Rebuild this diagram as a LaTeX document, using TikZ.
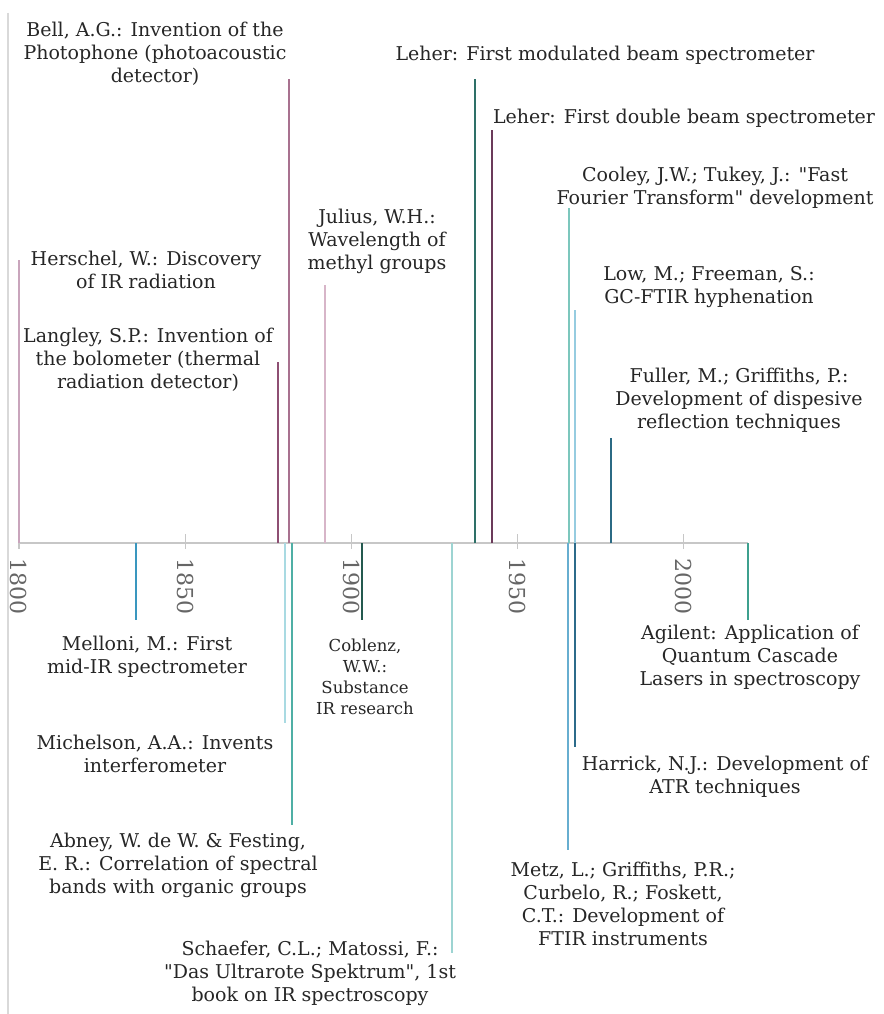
\documentclass[tikz,border=0pt]{standalone}
\usepackage{fontspec}
\setmainfont{DejaVu Serif}[Ligatures=TeXOff]
\definecolor{cHer}{HTML}{C9A5BC}
\definecolor{cLan}{HTML}{8E4F73}
\definecolor{cBel}{HTML}{A8718F}
\definecolor{cJul}{HTML}{D7B5C8}
\definecolor{cLmo}{HTML}{2E7068}
\definecolor{cLdb}{HTML}{6B3A5A}
\definecolor{cCoo}{HTML}{7CC7BD}
\definecolor{cLow}{HTML}{96CCE0}
\definecolor{cFul}{HTML}{2B6A84}
\definecolor{cMel}{HTML}{3A97BF}
\definecolor{cMic}{HTML}{A9DAE2}
\definecolor{cAbn}{HTML}{4FAFA5}
\definecolor{cCob}{HTML}{24594F}
\definecolor{cSch}{HTML}{9DD4D2}
\definecolor{cMet}{HTML}{67AED0}
\definecolor{cHar}{HTML}{2C6B8A}
\definecolor{cAgi}{HTML}{3DA08E}
\begin{document}
\begin{tikzpicture}[x=1pt,y=-1pt,
  event/.style = {line width=2.2pt},
  axis/.style = {draw=black!22,line width=1.2pt},
  lbl/.style = {align=center,inner sep=0pt,text=black!85,font=\fontsize{19}{23}\selectfont},
  small/.style = {align=center,inner sep=0pt,text=black!85,font=\fontsize{16.5}{21}\selectfont},
  yr/.style = {rotate=-90,anchor=west,inner sep=0pt,text=black!60,font=\fontsize{22}{24}\selectfont}]
\useasboundingbox (0,0) rectangle (883,1014);
\draw[draw=black!15,line width=1.5pt] (8,13) -- (8,1014);
\coordinate (ax0) at (19,543);
\coordinate (ax1) at (748,543);
\draw[axis] (ax0) -- (ax1);
\foreach \yr [count=\k from 0] in {1800,1850,1900,1950,2000} {
    \draw[axis] (19+166.1*\k,534) -- (19+166.1*\k,549);
    \node[yr] (y\yr) at (19+166.1*\k,558) {\yr};
}
\coordinate (her0) at (19,543);  \coordinate (her1) at (19,260);
\coordinate (lan0) at (278,543); \coordinate (lan1) at (278,362);
\coordinate (bel0) at (289,543); \coordinate (bel1) at (289,79);
\coordinate (jul0) at (325,543); \coordinate (jul1) at (325,285);
\coordinate (lmo0) at (475,543); \coordinate (lmo1) at (475,79);
\coordinate (ldb0) at (492,543); \coordinate (ldb1) at (492,130);
\coordinate (coo0) at (569,543); \coordinate (coo1) at (569,208);
\coordinate (low0) at (575,543); \coordinate (low1) at (575,310);
\coordinate (ful0) at (611,543); \coordinate (ful1) at (611,438);
\coordinate (mel0) at (136,543); \coordinate (mel1) at (136,620);
\coordinate (mic0) at (285,543); \coordinate (mic1) at (285,723);
\coordinate (abn0) at (292,543); \coordinate (abn1) at (292,825);
\coordinate (cob0) at (362,543); \coordinate (cob1) at (362,620);
\coordinate (sch0) at (452,543); \coordinate (sch1) at (452,953);
\coordinate (met0) at (568,543); \coordinate (met1) at (568,850);
\coordinate (har0) at (575,543); \coordinate (har1) at (575,747);
\coordinate (agi0) at (748,543); \coordinate (agi1) at (748,620);
\draw[event,cHer] (her0) -- (her1);
\draw[event,cLan] (lan0) -- (lan1);
\draw[event,cBel] (bel0) -- (bel1);
\draw[event,cJul] (jul0) -- (jul1);
\draw[event,cLmo] (lmo0) -- (lmo1);
\draw[event,cLdb] (ldb0) -- (ldb1);
\draw[event,cCoo] (coo0) -- (coo1);
\draw[event,cLow] (low0) -- (low1);
\draw[event,cFul] (ful0) -- (ful1);
\draw[event,cMel] (mel0) -- (mel1);
\draw[event,cMic] (mic0) -- (mic1);
\draw[event,cAbn] (abn0) -- (abn1);
\draw[event,cCob] (cob0) -- (cob1);
\draw[event,cSch] (sch0) -- (sch1);
\draw[event,cMet] (met0) -- (met1);
\draw[event,cHar] (har0) -- (har1);
\draw[event,cAgi] (agi0) -- (agi1);
\node[lbl] (herschel) at (146,270) {Herschel, W.: Discovery\\of IR radiation};
\node[lbl] (langley) at (148,360) {Langley, S.P.: Invention of\\the bolometer (thermal\\radiation detector)};
\node[lbl] (bell) at (155,54) {Bell, A.G.: Invention of the\\Photophone (photoacoustic\\detector)};
\node[lbl] (julius) at (377,241) {Julius, W.H.:\\Wavelength of\\methyl groups};
\node[lbl] (lehmod) at (605,55) {Leher: First modulated beam spectrometer};
\node[lbl] (lehdbl) at (684,118) {Leher: First double beam spectrometer};
\node[lbl] (cooley) at (715,188) {Cooley, J.W.; Tukey, J.: "Fast\\Fourier Transform" development};
\node[lbl] (low) at (709,287) {Low, M.; Freeman, S.:\\GC-FTIR hyphenation};
\node[lbl] (fuller) at (739,400) {Fuller, M.; Griffiths, P.:\\Development of dispesive\\reflection techniques};
\node[lbl] (melloni) at (147,657) {Melloni, M.: First\\mid-IR spectrometer};
\node[lbl] (michelson) at (155,754) {Michelson, A.A.: Invents\\interferometer};
\node[lbl] (abney) at (178,865) {Abney, W. de W. \& Festing,\\E. R.: Correlation of spectral\\bands with organic groups};
\node[small] (coblenz) at (365,677) {Coblenz,\\W.W.:\\Substance\\IR research};
\node[lbl] (schaefer) at (310,973) {Schaefer, C.L.; Matossi, F.:\\"Das Ultrarote Spektrum", 1st\\book on IR spectroscopy};
\node[lbl] (metz) at (623,904) {Metz, L.; Griffiths, P.R.;\\Curbelo, R.; Foskett,\\C.T.: Development of\\FTIR instruments};
\node[lbl] (harrick) at (725,777) {Harrick, N.J.: Development of\\ATR techniques};
\node[lbl] (agilent) at (750,657) {Agilent: Application of\\Quantum Cascade\\Lasers in spectroscopy};
\end{tikzpicture}
\end{document}
